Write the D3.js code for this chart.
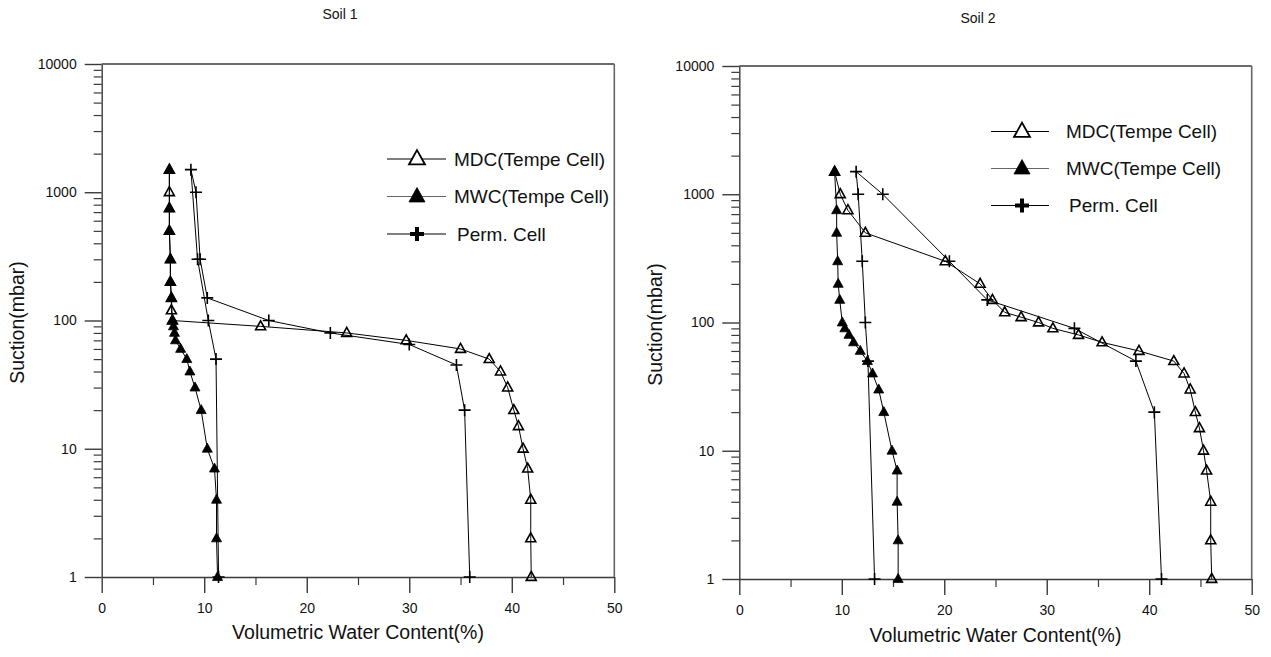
<!DOCTYPE html>
<html>
<head>
<meta charset="utf-8">
<script src="https://cdn.jsdelivr.net/npm/d3@7"></script>
<style>
  html, body { margin: 0; padding: 0; background: #fff; }
  svg { display: block; font-family: "Liberation Sans", Arial, sans-serif; }
</style>
</head>
<body>
<svg id="chart" width="1271" height="657"></svg>
<script>
// ---------- data ----------
const seriesNames = ["MDC(Tempe Cell)", "MWC(Tempe Cell)", "Perm. Cell"];
const xTickValues = [0, 10, 20, 30, 40, 50];
const yTickValues = [1, 10, 100, 1000, 10000];

// Soil 1
const mdc1Suction = [1500, 1000, 750, 500, 300, 200, 150, 120, 100, 90, 80, 70, 60, 50, 40, 30, 20, 15, 10, 7, 4, 2, 1];
const mdc1Water   = [6.6, 6.6, 6.6, 6.6, 6.7, 6.7, 6.8, 6.8, 6.9, 15.5, 23.9, 29.7, 35.0, 37.8, 38.9, 39.6, 40.2, 40.65, 41.1, 41.55, 41.85, 41.85, 41.9];
const mwc1Suction = [1500, 750, 500, 300, 200, 150, 100, 90, 80, 70, 60, 50, 40, 30, 20, 10, 7, 4, 2, 1];
const mwc1Water   = [6.6, 6.6, 6.6, 6.7, 6.7, 6.8, 6.9, 7.0, 7.1, 7.2, 7.7, 8.3, 8.6, 9.1, 9.7, 10.3, 11.0, 11.2, 11.2, 11.3];
const perm1Suction = [1, 20, 45, 65, 80, 100, 150, 300, 1000, 1500, 300, 100, 50, 1];
const perm1Water   = [35.9, 35.4, 34.6, 30.0, 22.3, 16.3, 10.3, 9.6, 9.2, 8.7, 9.35, 10.4, 11.15, 11.4];

// Soil 2
const mdc2Suction = [1500, 1000, 750, 500, 300, 200, 150, 120, 110, 100, 90, 80, 70, 60, 50, 40, 30, 20, 15, 10, 7, 4, 2, 1];
const mdc2Water   = [9.3, 9.85, 10.6, 12.3, 20.1, 23.5, 24.7, 25.9, 27.5, 29.2, 30.6, 33.1, 35.4, 39.0, 42.4, 43.4, 44.0, 44.5, 44.9, 45.3, 45.6, 46.0, 46.0, 46.1];
const mwc2Suction = [1500, 750, 500, 300, 200, 150, 100, 90, 80, 70, 60, 50, 40, 30, 20, 10, 7, 4, 2, 1];
const mwc2Water   = [9.3, 9.5, 9.5, 9.6, 9.65, 9.8, 10.05, 10.3, 10.7, 11.15, 11.8, 12.5, 13.0, 13.6, 14.1, 14.9, 15.4, 15.4, 15.5, 15.5];
const perm2Suction = [1, 20, 50, 90, 150, 300, 1000, 1500, 1000, 300, 100, 50, 1];
const perm2Water   = [41.2, 40.5, 38.7, 32.7, 24.2, 20.5, 14.0, 11.4, 11.6, 12.0, 12.3, 12.55, 13.2];

const zip = (s, w) => s.map((v, i) => ({ suction: v, water: w[i] }));

const panels = [
  {
    title: "Soil 1",
    left: 101.7, right: 614.3, top: 64, bottom: 577,
    titleX: 340, titleY: 19,
    yLabelX: 24, xLabelY: 639,
    legend: { x1: 387, x2: 446, mx: 417, tx: 454, y0: 159, dy: 37.5 },
    series: [zip(mdc1Suction, mdc1Water), zip(mwc1Suction, mwc1Water), zip(perm1Suction, perm1Water)]
  },
  {
    title: "Soil 2",
    left: 739.3, right: 1251.7, top: 66, bottom: 579,
    titleX: 978, titleY: 23,
    yLabelX: 662, xLabelY: 642,
    legend: { x1: 991, x2: 1049, mx: 1022, tx: 1066, y0: 131.5, dy: 37 },
    series: [zip(mdc2Suction, mdc2Water), zip(mwc2Suction, mwc2Water), zip(perm2Suction, perm2Water)]
  }
];

const svg = d3.select("#chart");
const axisColor = "#3a3a3a";

function triPath(size) {
  const h = size * 0.9;
  return `M0,${-h * 0.62}L${size / 2},${h * 0.38}L${-size / 2},${h * 0.38}Z`;
}
function plusPath(size) {
  const r = size / 2;
  return `M${-r},0H${r}M0,${-r}V${r}`;
}

function drawMarker(g, type, x, y, size, legend) {
  if (type === 0) {
    g.append("path").attr("d", triPath(size)).attr("transform", `translate(${x},${y})`)
      .attr("fill", legend ? "#fff" : "none").attr("stroke", "#000").attr("stroke-width", legend ? 1.8 : 1.6);
  } else if (type === 1) {
    g.append("path").attr("d", triPath(size)).attr("transform", `translate(${x},${y})`)
      .attr("fill", "#000").attr("stroke", "#000").attr("stroke-width", 0.8);
  } else {
    g.append("path").attr("d", plusPath(size)).attr("transform", `translate(${x},${y})`)
      .attr("fill", "none").attr("stroke", "#000").attr("stroke-width", legend ? 4 : 1.6);
  }
}

panels.forEach(p => {
  const x = d3.scaleLinear().domain([0, 50]).range([p.left, p.right]);
  const y = d3.scaleLog().domain([1, 10000]).range([p.bottom, p.top]);
  const g = svg.append("g");

  // minor y ticks
  const minorY = [];
  for (let d = 1; d < 10000; d *= 10) for (let k = 2; k <= 9; k++) minorY.push(d * k);
  g.append("g").attr("transform", `translate(${p.left},0)`)
    .call(d3.axisLeft(y).tickValues(minorY).tickSize(8).tickSizeOuter(0).tickFormat(""))
    .call(a => { a.select(".domain").remove(); a.selectAll("line").attr("stroke", axisColor).attr("stroke-width", 1.2); });
  // major y ticks
  g.append("g").attr("transform", `translate(${p.left},0)`)
    .call(d3.axisLeft(y).tickValues(yTickValues).tickSize(17).tickSizeOuter(0).tickPadding(8).tickFormat(d3.format("d")))
    .call(a => {
      a.select(".domain").attr("stroke", axisColor).attr("stroke-width", 1.4);
      a.selectAll("line").attr("stroke", axisColor).attr("stroke-width", 1.4);
      a.selectAll("text").attr("font-size", 14).attr("fill", "#111");
    });

  // minor x ticks
  g.append("g").attr("transform", `translate(0,${p.bottom})`)
    .call(d3.axisBottom(x).tickValues([5, 15, 25, 35, 45]).tickSize(8).tickSizeOuter(0).tickFormat(""))
    .call(a => { a.select(".domain").remove(); a.selectAll("line").attr("stroke", axisColor).attr("stroke-width", 1.2); });
  // major x ticks
  g.append("g").attr("transform", `translate(0,${p.bottom})`)
    .call(d3.axisBottom(x).tickValues(xTickValues).tickSize(16).tickSizeOuter(0).tickPadding(10).tickFormat(d3.format("d")))
    .call(a => {
      a.select(".domain").attr("stroke", axisColor).attr("stroke-width", 1.4);
      a.selectAll("line").attr("stroke", axisColor).attr("stroke-width", 1.4);
      a.selectAll("text").attr("font-size", 14).attr("fill", "#111");
    });

  // top and right frame
  g.append("line").attr("x1", x(0)).attr("x2", x(50)).attr("y1", y(10000)).attr("y2", y(10000))
    .attr("stroke", axisColor).attr("stroke-width", 1.4);
  g.append("line").attr("x1", x(50)).attr("x2", x(50)).attr("y1", y(10000)).attr("y2", y(1))
    .attr("stroke", "#666").attr("stroke-width", 1.6);

  // titles
  g.append("text").attr("x", p.titleX).attr("y", p.titleY).attr("text-anchor", "middle")
    .attr("font-size", 14).attr("fill", "#111").text(p.title);
  g.append("text").attr("transform", `translate(${p.yLabelX},${(p.top + p.bottom) / 2 + 2}) rotate(-90)`)
    .attr("text-anchor", "middle").attr("font-size", 19.5).attr("fill", "#111").text("Suction(mbar)");
  g.append("text").attr("x", (p.left + p.right) / 2).attr("y", p.xLabelY).attr("text-anchor", "middle")
    .attr("font-size", 19.5).attr("fill", "#111").text("Volumetric Water Content(%)");

  // data
  const line = d3.line().x(d => x(d.water)).y(d => y(d.suction));
  p.series.forEach((data, si) => {
    g.append("path").datum(data).attr("d", line).attr("fill", "none")
      .attr("stroke", "#000").attr("stroke-width", 1);
  });
  p.series.forEach((data, si) => {
    data.forEach(d => drawMarker(g, si, x(d.water), y(d.suction), si === 2 ? 12 : 10, false));
  });

  // legend
  const L = p.legend;
  seriesNames.forEach((name, i) => {
    const ly = L.y0 + i * L.dy;
    g.append("line").attr("x1", L.x1).attr("x2", L.x2).attr("y1", ly).attr("y2", ly)
      .attr("stroke", i === 1 ? "#666" : "#000").attr("stroke-width", 1.2);
    drawMarker(g, i, L.mx, ly, i === 2 ? 14 : 16, true);
    g.append("text").attr("x", L.tx + (i === 2 ? 3 : 0)).attr("y", ly + 6.5).attr("font-size", 19)
      .attr("fill", "#111").text(name);
  });
});
</script>
</body>
</html>
